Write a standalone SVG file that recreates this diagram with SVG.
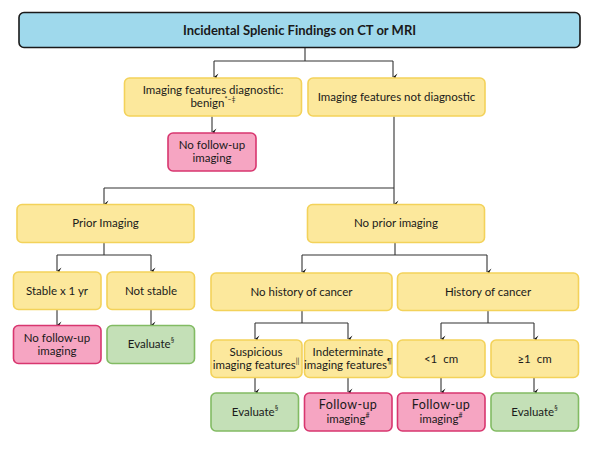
<svg xmlns="http://www.w3.org/2000/svg" width="597" height="449" viewBox="0 0 597 449">
<defs>
<marker id="ah" viewBox="0 0 8 8" refX="4" refY="7" markerWidth="8" markerHeight="8" markerUnits="userSpaceOnUse" orient="auto-start-reverse">
<path d="M0.5,2.5 L4,7 L7.5,2.5 L4,4.5 Z" fill="#111"/>
</marker>
<style>
text{font-family:Lato,"Open Sans","Liberation Sans",sans-serif;font-size:11.5px;fill:#1a1a1a;text-anchor:middle}
.t{font-weight:bold;font-size:13px}
.y{fill:#FCE89C;stroke:#F3D25A;stroke-width:1.6}
.p{fill:#F6A5C2;stroke:#D8366F;stroke-width:1.6}
.g{fill:#C4E0B7;stroke:#82BB63;stroke-width:1.6}
.b{fill:#9FD9EC;stroke:#1a1a1a;stroke-width:1.6}
.c path{fill:none;stroke:#333;stroke-width:1.1}
.c path.a{marker-end:url(#ah)}
.s{font-size:7px}
.f{font-size:12.5px;letter-spacing:0.4px}
</style>
</defs>
<rect width="597" height="449" fill="#fff"/>
<g class="c" id="connectors">
<path d="M305,47.5 V61 M214,61 H393"/>
<path class="a" d="M214,61 V77"/>
<path class="a" d="M393,61 V77"/>
<path class="a" d="M212,116.5 V132"/>
<path d="M394,116.5 V188 M104,188 H394"/>
<path class="a" d="M104,188 V204"/>
<path class="a" d="M394,188 V204"/>
<path d="M104,242.5 V255 M57,255 H151"/>
<path class="a" d="M57,255 V271"/>
<path class="a" d="M151,255 V271"/>
<path class="a" d="M57,309.5 V325"/>
<path class="a" d="M151,309.5 V325"/>
<path d="M395,242.5 V255 M302,255 H487"/>
<path class="a" d="M302,255 V272"/>
<path class="a" d="M487,255 V272"/>
<path d="M302,310.5 V323 M255,323 H348"/>
<path class="a" d="M255,323 V339"/>
<path class="a" d="M348,323 V339"/>
<path d="M488,310.5 V323 M441,323 H534"/>
<path class="a" d="M441,323 V339"/>
<path class="a" d="M534,323 V339"/>
<path class="a" d="M255,377.5 V392"/>
<path class="a" d="M348,377.5 V392"/>
<path class="a" d="M441,377.5 V392"/>
<path class="a" d="M534,377.5 V392"/>
</g>
<g id="title"><rect class="b" x="19" y="12.5" width="561" height="35" rx="5"/><text class="t" x="299.5" y="34.5">Incidental Splenic Findings on CT or MRI</text></g>
<g id="diag"><rect class="y" x="124.5" y="78" width="177" height="38" rx="5"/><text x="213" y="93.5">Imaging features diagnostic:</text><text x="213" y="106.5">benign<tspan class="s" dy="-5">*–‡</tspan></text></g>
<g id="notdiag"><rect class="y" x="308" y="78" width="177" height="38" rx="5"/><text x="396.5" y="101">Imaging features not diagnostic</text></g>
<g id="nofu1"><rect class="p" x="168" y="133" width="88" height="38" rx="5"/><text x="212" y="149">No follow-up</text><text x="212" y="162">imaging</text></g>
<g id="prior"><rect class="y" x="17" y="204.5" width="177" height="38" rx="5"/><text x="105.5" y="227">Prior Imaging</text></g>
<g id="noprior"><rect class="y" x="307.5" y="204.5" width="177" height="38" rx="5"/><text x="396" y="227">No prior imaging</text></g>
<g id="stable"><rect class="y" x="13.5" y="272" width="87.5" height="37.5" rx="5"/><text x="57" y="295">Stable x 1 yr</text></g>
<g id="notstable"><rect class="y" x="107" y="272" width="87.5" height="37.5" rx="5"/><text x="151" y="295">Not stable</text></g>
<g id="nohist"><rect class="y" x="211" y="273" width="181" height="37.5" rx="5"/><text x="301.5" y="296">No history of cancer</text></g>
<g id="hist"><rect class="y" x="397.5" y="273" width="181" height="37.5" rx="5"/><text x="488" y="296">History of cancer</text></g>
<g id="nofu2"><rect class="p" x="13.5" y="325.5" width="87.5" height="38" rx="5"/><text x="57" y="341.5">No follow-up</text><text x="57" y="354.5">imaging</text></g>
<g id="eval1"><rect class="g" x="107" y="325.5" width="87.5" height="38" rx="5"/><text x="151" y="348">Evaluate<tspan class="s" dy="-5">§</tspan></text></g>
<g id="susp"><rect class="y" x="211" y="340" width="91" height="37.5" rx="5"/><text x="256" y="356">Suspicious</text><text x="256" y="369">imaging features<tspan class="s" dy="-5">||</tspan></text></g>
<g id="indet"><rect class="y" x="304.5" y="340" width="87.5" height="37.5" rx="5"/><text x="348" y="356">Indeterminate</text><text x="348" y="369">imaging features<tspan class="s" dy="-5">¶</tspan></text></g>
<g id="lt1"><rect class="y" x="397.5" y="340" width="87.5" height="37.5" rx="5"/><text x="441" y="363" xml:space="preserve">&lt;1  cm</text></g>
<g id="ge1"><rect class="y" x="491" y="340" width="87.5" height="37.5" rx="5"/><text x="534.5" y="363" xml:space="preserve">≥1  cm</text></g>
<g id="eval2"><rect class="g" x="211" y="393" width="87.5" height="38" rx="5"/><text x="255" y="416">Evaluate<tspan class="s" dy="-5">§</tspan></text></g>
<g id="fu1"><rect class="p" x="304.5" y="393" width="87.5" height="38" rx="5"/><text class="f" x="348" y="409">Follow-up</text><text x="348" y="423">imaging<tspan class="s" dy="-5">#</tspan></text></g>
<g id="fu2"><rect class="p" x="397.5" y="393" width="87.5" height="38" rx="5"/><text class="f" x="441" y="409">Follow-up</text><text x="441" y="423">imaging<tspan class="s" dy="-5">#</tspan></text></g>
<g id="eval3"><rect class="g" x="491" y="393" width="87.5" height="38" rx="5"/><text x="534.5" y="416">Evaluate<tspan class="s" dy="-5">§</tspan></text></g>
</svg>
